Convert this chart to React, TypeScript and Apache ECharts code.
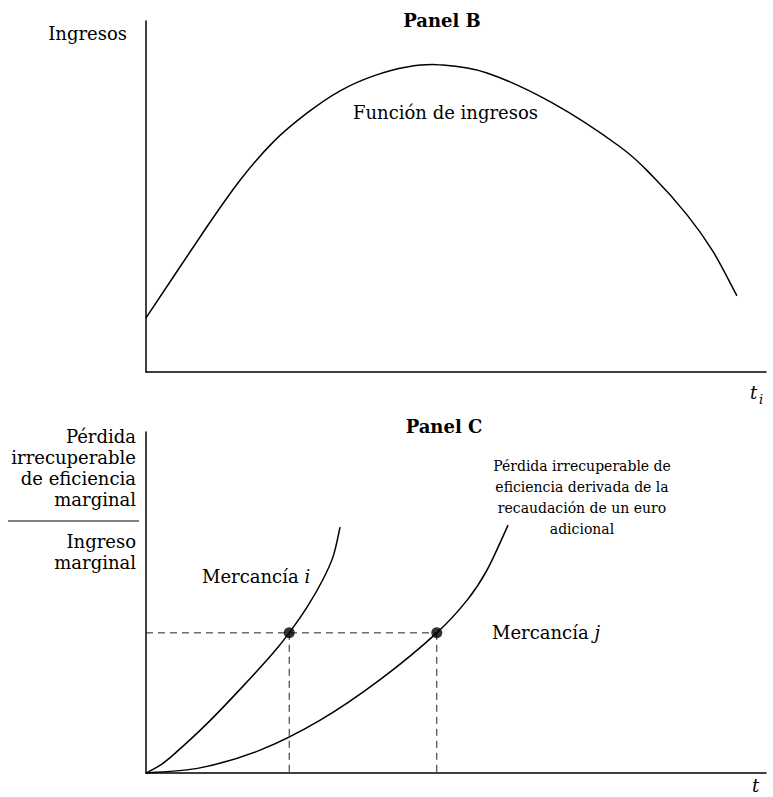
import React, { useEffect, useRef } from "react";
import * as echarts from "echarts";

// Panel B: revenue function (x: tax rate t_i, y: revenue), values on 0–100 scales
const revenueCurve: number[][] = [
  [0, 15.4], [9.8, 41.3], [15.2, 54.7], [20.5, 65.5], [26.0, 73.8], [31.3, 80.1],
  [36.6, 84.3], [42.1, 86.9], [47.4, 87.5], [55.0, 85.2], [65.6, 76.6], [76.5, 64.1],
  [81.8, 55.6], [87.3, 44.7], [91.5, 34.2], [95.3, 21.7],
];

// Panel C: marginal deadweight loss per marginal revenue
const goodI: number[][] = [
  [0, 0], [2.3, 2.3], [4.4, 5.3], [9.8, 14.4], [15.2, 24.6], [20.5, 35.2],
  [23.1, 41.1], [26.0, 48.7], [28.5, 56.6], [30.2, 63.6], [31.3, 72.1],
];
const goodJ: number[][] = [
  [0, 0], [8.7, 1.5], [18.4, 6.7], [28.1, 15.5], [37.7, 27.3], [46.9, 41.1],
  [51.8, 50.7], [55.0, 59.5], [58.4, 72.7],
];
const equalLevel = 41.1;
const tI = 23.1;
const tJ = 46.9;

const FONT = '"DejaVu Serif", serif';

// smooth curve through the data points (Catmull-Rom drawn as cubic Béziers), positioned by the axes
function curveSeries(data: number[][], gridIdx: number) {
  return {
    type: "custom",
    xAxisIndex: gridIdx,
    yAxisIndex: gridIdx,
    data,
    clip: false,
    renderItem: (params: any, api: any) => {
      if (params.dataIndex !== 0) return null;
      const p = data.map((d) => api.coord(d));
      let d = `M${p[0][0]},${p[0][1]}`;
      for (let i = 0; i < p.length - 1; i++) {
        const p0 = p[i - 1] || p[i];
        const p1 = p[i];
        const p2 = p[i + 1];
        const p3 = p[i + 2] || p[i + 1];
        const c1x = p1[0] + (p2[0] - p0[0]) / 6;
        const c1y = p1[1] + (p2[1] - p0[1]) / 6;
        const c2x = p2[0] - (p3[0] - p1[0]) / 6;
        const c2y = p2[1] - (p3[1] - p1[1]) / 6;
        d += ` C${c1x},${c1y} ${c2x},${c2y} ${p2[0]},${p2[1]}`;
      }
      return {
        type: "path",
        shape: { pathData: d },
        style: { fill: "none", stroke: "#000", lineWidth: 1.5 },
      };
    },
  };
}

export default function App() {
  const ref = useRef<HTMLDivElement>(null);
  useEffect(() => {
    if (!ref.current) return;
    const chart = echarts.init(ref.current, null, { renderer: "svg" });
    const axisLine = { show: true, onZero: false, lineStyle: { color: "#000", width: 1.5 } };
    const hidden = {
      axisTick: { show: false },
      axisLabel: { show: false },
      splitLine: { show: false },
    };
    const txt = (text: string, x: number, y: number, opts: any = {}) => ({
      type: "text",
      x,
      y,
      style: {
        text,
        fill: "#000",
        fontFamily: FONT,
        fontSize: 18,
        align: "left",
        verticalAlign: "middle",
        ...opts,
      },
    });
    const itRich = { it: { fontStyle: "italic", fontFamily: FONT, fontSize: 18, fill: "#000" } };
    const dashed = { color: "#222", width: 1, type: [7, 5] as any };

    chart.setOption({
      animation: false,
      backgroundColor: "#fff",
      grid: [
        { left: 146, top: 21, width: 620, height: 351 },
        { left: 146, top: 432, width: 620, height: 341 },
      ],
      xAxis: [
        { type: "value", gridIndex: 0, min: 0, max: 100, axisLine, ...hidden },
        { type: "value", gridIndex: 1, min: 0, max: 100, axisLine, ...hidden },
      ],
      yAxis: [
        { type: "value", gridIndex: 0, min: 0, max: 100, axisLine, ...hidden },
        { type: "value", gridIndex: 1, min: 0, max: 100, axisLine, ...hidden },
      ],
      series: [
        curveSeries(revenueCurve, 0),
        curveSeries(goodI, 1),
        curveSeries(goodJ, 1),
        {
          type: "line", xAxisIndex: 1, yAxisIndex: 1,
          data: [[0, equalLevel], [tJ, equalLevel]], symbol: "none", lineStyle: dashed,
        },
        {
          type: "line", xAxisIndex: 1, yAxisIndex: 1,
          data: [[tI, equalLevel], [tI, 0]], symbol: "none", lineStyle: dashed,
        },
        {
          type: "line", xAxisIndex: 1, yAxisIndex: 1,
          data: [[tJ, equalLevel], [tJ, 0]], symbol: "none", lineStyle: dashed,
        },
        {
          type: "scatter", xAxisIndex: 1, yAxisIndex: 1,
          data: [[tI, equalLevel], [tJ, equalLevel]], symbolSize: 11,
          itemStyle: { color: "#000" }, z: 5,
        },
      ],
      graphic: [
        txt("Ingresos", 127, 33, { align: "right" }),
        txt("Panel B", 442, 20, { align: "center", fontWeight: "bold" }),
        txt("Función de ingresos", 353, 112),
        txt("t", 750, 392, { fontStyle: "italic" }),
        txt("i", 759, 399, { fontStyle: "italic", fontSize: 13 }),
        txt("Panel C", 444, 426, { align: "center", fontWeight: "bold" }),
        txt("Pérdida", 136, 436, { align: "right" }),
        txt("irrecuperable", 136, 457, { align: "right" }),
        txt("de eficiencia", 136, 478, { align: "right" }),
        txt("marginal", 136, 499, { align: "right" }),
        {
          type: "line",
          shape: { x1: 8, y1: 521, x2: 139, y2: 521 },
          style: { stroke: "#000", lineWidth: 1.2 },
        },
        txt("Ingreso", 136, 541, { align: "right" }),
        txt("marginal", 136, 562, { align: "right" }),
        txt("Pérdida irrecuperable de", 582, 466, { align: "center", fontSize: 14 }),
        txt("eficiencia derivada de la", 582, 487, { align: "center", fontSize: 14 }),
        txt("recaudación de un euro", 582, 508, { align: "center", fontSize: 14 }),
        txt("adicional", 582, 529, { align: "center", fontSize: 14 }),
        txt("Mercancía {it|i}", 202, 576, { rich: itRich }),
        txt("Mercancía {it|j}", 492, 632, { rich: itRich }),
        txt("t", 752, 785, { fontStyle: "italic" }),
      ],
    });
    return () => chart.dispose();
  }, []);
  return (
    <div
      ref={ref}
      style={{ position: "fixed", left: 0, top: 0, width: 773, height: 797, background: "#fff" }}
    />
  );
}
